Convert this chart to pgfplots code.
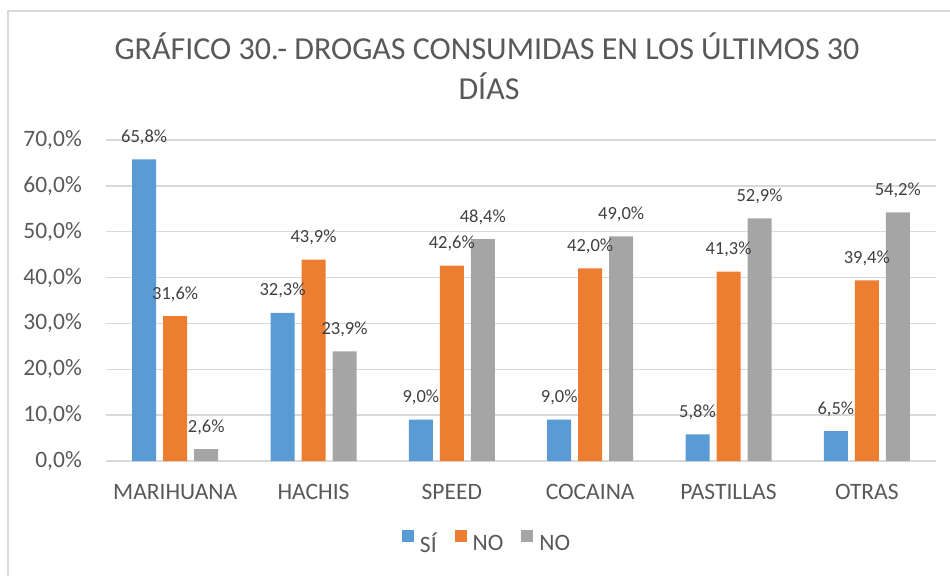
\documentclass[border=0pt]{standalone}
\usepackage{fontspec}
\setmainfont{Carlito}
\usepackage{pgfplots}
\pgfplotsset{compat=1.18}
\definecolor{cblue}{HTML}{5B9BD5}
\definecolor{corange}{HTML}{ED7D31}
\definecolor{cgray}{HTML}{A5A5A5}
\definecolor{txt}{HTML}{595959}
\definecolor{lbl}{HTML}{404040}
\definecolor{gridc}{HTML}{D9D9D9}
\begin{document}
\begin{tikzpicture}[x=1pt,y=1pt]
\useasboundingbox (0,0) rectangle (950,576);
\draw[gridc, line width=1.5pt] (8,0) -- (8,565) -- (950,565);
\node[anchor=base, text=txt, inner sep=0pt, font=\fontsize{32}{38}\selectfont] at (487,516) {GRÁFICO 30.- DROGAS CONSUMIDAS EN LOS ÚLTIMOS 30};
\node[anchor=base, text=txt, inner sep=0pt, font=\fontsize{32}{38}\selectfont] at (489,476) {DÍAS};
\begin{axis}[
  at={(106pt,115pt)}, anchor=south west,
  scale only axis, width=830pt, height=321pt,
  xmin=-0.5, xmax=5.5, ymin=0, ymax=70,
  clip=false,
  ybar, bar width=24pt,
  xtick={0,...,5},
  xticklabels={MARIHUANA,HACHIS,SPEED,COCAINA,PASTILLAS,OTRAS},
  ytick={0,10,...,70},
  ymajorgrids, grid style={gridc, line width=1.3pt},
  axis line style={draw=none},
  major tick length=0pt, tick style={draw=none},
  /pgf/number format/fixed, /pgf/number format/fixed zerofill,
  /pgf/number format/precision=1, /pgf/number format/use comma,
  /pgf/number format/assume math mode=true,
  yticklabel={\pgfmathprintnumber{\tick}\%},
  yticklabel style={anchor=east, inner sep=0pt, xshift=-24pt, text=txt, font=\fontsize{23.5}{28}\selectfont},
  xticklabel style={anchor=base, inner sep=0pt, yshift=-38pt, text=txt, font=\fontsize{23.5}{28}\selectfont},
  nodes near coords={\pgfmathprintnumber{\pgfplotspointmeta}\%},
  every node near coord/.append style={anchor=base, inner sep=0pt, yshift=17pt, text=lbl, font=\fontsize{18.5}{22}\selectfont},
  legend style={at={(0.3566,-0.252)}, anchor=west, draw=none, fill=none,
    inner sep=0pt, outer sep=0pt, text=txt, font=\fontsize{23.5}{28}\selectfont,
    nodes={inner sep=0pt},
    /tikz/every odd column/.append style={column sep=6pt},
    /tikz/every even column/.append style={column sep=18pt}},
  legend columns=-1,
  legend image code/.code={\fill[#1] (0pt,2pt) rectangle (12pt,14pt);},
]
\addplot[fill=cblue, draw=none, bar shift=-31pt] coordinates {(0,65.8) (1,32.3) (2,9.0) (3,9.0) (4,5.8) (5,6.5)};
\addplot[fill=corange, draw=none, bar shift=0pt] coordinates {(0,31.6) (1,43.9) (2,42.6) (3,42.0) (4,41.3) (5,39.4)};
\addplot[fill=cgray, draw=none, bar shift=31pt] coordinates {(0,2.6) (1,23.9) (2,48.4) (3,49.0) (4,52.9) (5,54.2)};
\legend{SÍ,NO,NO}
\end{axis}
\end{tikzpicture}
\end{document}
